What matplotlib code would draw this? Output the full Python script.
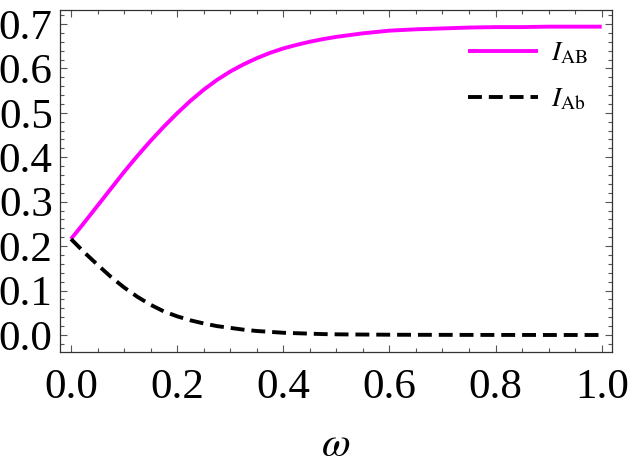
import matplotlib
matplotlib.use("Agg")
import matplotlib.pyplot as plt
from matplotlib.ticker import MultipleLocator, FormatStrFormatter

plt.rcParams['font.family'] = ['Liberation Serif', 'DejaVu Serif']
plt.rcParams['mathtext.fontset'] = 'stix'
plt.rcParams['lines.scale_dashes'] = False

omega = [0.0, 0.025, 0.05, 0.075, 0.10, 0.125, 0.15, 0.175, 0.20, 0.225,
         0.25, 0.275, 0.30, 0.325, 0.35, 0.375, 0.40, 0.425, 0.45, 0.475,
         0.50, 0.525, 0.55, 0.575, 0.60, 0.65, 0.70, 0.75, 0.80, 0.85, 0.90, 0.95, 1.00]
I_AB = [0.216, 0.253, 0.291, 0.329, 0.367, 0.403, 0.437, 0.469, 0.499, 0.527,
        0.552, 0.574, 0.593, 0.609, 0.623, 0.635, 0.645, 0.653, 0.660, 0.666,
        0.671, 0.675, 0.679, 0.682, 0.685, 0.688, 0.690, 0.692, 0.693, 0.693, 0.694, 0.694, 0.694]
I_Ab = [0.216, 0.186, 0.158, 0.131, 0.107, 0.086, 0.068, 0.053, 0.042, 0.033,
        0.026, 0.020, 0.016, 0.012, 0.009, 0.007, 0.005, 0.004, 0.003, 0.002,
        0.0015, 0.0012, 0.001, 0.0008, 0.0006, 0.0004, 0.0003, 0.0002, 0.0001, 0.0001, 0.0, 0.0, 0.0]

x_label = r'$\omega$'
labels = [r'$I_{\mathrm{AB}}$', r'$I_{\mathrm{Ab}}$']

fig = plt.figure(figsize=(6.31, 4.69), dpi=100)
ax = fig.add_axes([0.0946, 0.2488, 0.9704 - 0.0946, 0.9787 - 0.2488])

ax.plot(omega, I_AB, color='#FF00FF', lw=2.8, label=labels[0],
        solid_capstyle='butt', solid_joinstyle='round')
ax.plot(omega, I_Ab, color='black', lw=2.8, dashes=(10, 5), label=labels[1],
        dash_capstyle='butt')

ax.set_xlim(-0.0213, 1.020)
ax.set_ylim(-0.039, 0.7315)

ax.xaxis.set_major_locator(MultipleLocator(0.2))
ax.xaxis.set_minor_locator(MultipleLocator(0.05))
ax.yaxis.set_major_locator(MultipleLocator(0.1))
ax.yaxis.set_minor_locator(MultipleLocator(0.02))
ax.xaxis.set_major_formatter(FormatStrFormatter('%.1f'))
ax.yaxis.set_major_formatter(FormatStrFormatter('%.1f'))

frame_col = '#333333'
for s in ax.spines.values():
    s.set_color(frame_col)
    s.set_linewidth(0.9)

ax.tick_params(which='both', direction='in', top=True, right=True,
               color='#555555', width=0.8, labelsize=31)
ax.tick_params(which='major', length=5)
ax.tick_params(which='minor', length=3)
ax.tick_params(axis='x', which='major', pad=12)
ax.tick_params(axis='y', which='major', pad=5)

ax.set_xlabel(x_label, fontsize=30, labelpad=14)

ax.legend(loc='upper left', bbox_to_anchor=(0.738, 0.91), frameon=False,
          fontsize=20, handlelength=2.52, handletextpad=0.5,
          labelspacing=0.73, borderpad=0, borderaxespad=0)

fig.savefig('out.png', dpi=100)
